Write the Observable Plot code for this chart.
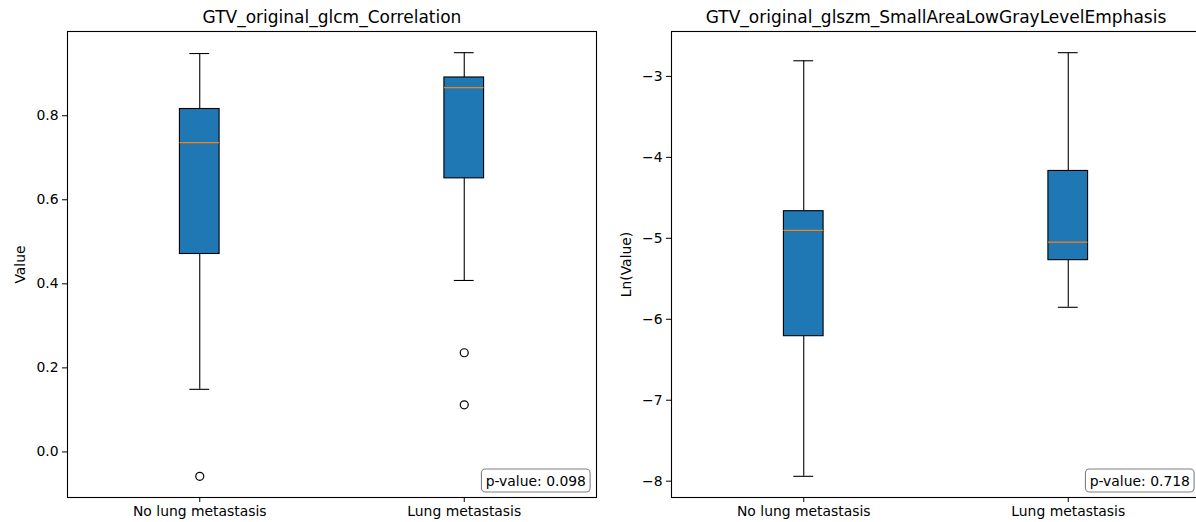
<!DOCTYPE html>
<html>
<head>
<meta charset="utf-8">
<script src="https://cdn.jsdelivr.net/npm/d3@7"></script>
<script src="https://cdn.jsdelivr.net/npm/@observablehq/plot@0.6"></script>
<style>
  html, body { margin: 0; padding: 0; background: #fff; }
  #wrap { width: 1196px; height: 522px; overflow: hidden; display: flex; flex-direction: row; align-items: flex-start; }
  #wrap svg { flex: none; display: block; }
</style>
</head>
<body>
<div id="wrap"></div>
<script>
// ---- Data ----
const groups = ["No lung metastasis", "Lung metastasis"];
const positions = [1, 2];

// Panel 1: GTV_original_glcm_Correlation
const corrTitle = "GTV_original_glcm_Correlation";
const corrYLabel = "Value";
const corrWhiskerLow  = [0.149, 0.408];
const corrQ1          = [0.471, 0.651];
const corrMedian      = [0.736, 0.867];
const corrQ3          = [0.816, 0.891];
const corrWhiskerHigh = [0.948, 0.950];
const corrOutlierGroup = [0, 1, 1];
const corrOutlierValue = [-0.058, 0.236, 0.112];
const corrTicks = [0.0, 0.2, 0.4, 0.6, 0.8];
const corrPValue = "p-value: 0.098";

// Panel 2: GTV_original_glszm_SmallAreaLowGrayLevelEmphasis
const salTitle = "GTV_original_glszm_SmallAreaLowGrayLevelEmphasis";
const salYLabel = "Ln(Value)";
const salWhiskerLow  = [-7.94, -5.852];
const salQ1          = [-6.209, -5.27];
const salMedian      = [-4.903, -5.046];
const salQ3          = [-4.665, -4.168];
const salWhiskerHigh = [-2.807, -2.707];
const salOutlierGroup = [];
const salOutlierValue = [];
const salTicks = [-8, -7, -6, -5, -4, -3];
const salPValue = "p-value: 0.718";

const FONT = "DejaVu Sans, sans-serif";
const BOX_HALF = 0.075, CAP_HALF = 0.0375;

function fmt(d, decimals) {
  const s = Math.abs(d).toFixed(decimals);
  return d < 0 ? "\u2212" + s : s;
}

function panel(opts) {
  const stats = groups.map((g, i) => ({
    group: g, pos: positions[i],
    lo: opts.lo[i], q1: opts.q1[i], med: opts.med[i], q3: opts.q3[i], hi: opts.hi[i]
  }));
  const outliers = opts.outGroup.map((gi, k) => ({pos: positions[gi], v: opts.outVal[k]}));
  const all = [...opts.lo, ...opts.hi, ...opts.outVal];
  const mn = d3.min(all), mx = d3.max(all), pad = (mx - mn) * 0.05;

  const svg = Plot.plot({
    width: opts.width,
    height: 522,
    marginLeft: opts.marginLeft,
    marginRight: opts.marginRight,
    marginTop: 31,
    marginBottom: 25,
    style: {fontFamily: FONT, fontSize: "13.9px", color: "#000", background: "#fff"},
    x: {domain: [0.5, 2.5]},
    y: {domain: [mn - pad, mx + pad]},
    marks: [
      Plot.frame({stroke: "#000", strokeWidth: 1.1}),
      // whiskers
      Plot.ruleX(stats, {x: "pos", y1: "q3", y2: "hi", stroke: "#000", strokeWidth: 1.1}),
      Plot.ruleX(stats, {x: "pos", y1: "lo", y2: "q1", stroke: "#000", strokeWidth: 1.1}),
      // caps
      Plot.ruleY(stats, {y: "hi", x1: d => d.pos - CAP_HALF, x2: d => d.pos + CAP_HALF, stroke: "#000", strokeWidth: 1.1}),
      Plot.ruleY(stats, {y: "lo", x1: d => d.pos - CAP_HALF, x2: d => d.pos + CAP_HALF, stroke: "#000", strokeWidth: 1.1}),
      // boxes
      Plot.rect(stats, {x1: d => d.pos - BOX_HALF, x2: d => d.pos + BOX_HALF, y1: "q1", y2: "q3", fill: "#1f77b4", stroke: "#000", strokeWidth: 1.1}),
      // medians
      Plot.ruleY(stats, {y: "med", x1: d => d.pos - BOX_HALF, x2: d => d.pos + BOX_HALF, stroke: "#ff7f0e", strokeWidth: 1.3}),
      // outliers
      Plot.dot(outliers, {x: "pos", y: "v", r: 4, stroke: "#000", fill: "none", strokeWidth: 1.2}),
      // axes
      Plot.axisX({ticks: positions, tickFormat: d => groups[positions.indexOf(d)], tickSize: 5, tickPadding: 4, label: null, fontSize: "13.9px"}),
      Plot.axisY({ticks: opts.ticks, tickFormat: d => fmt(d, opts.decimals), tickSize: 5, tickPadding: 4, fontSize: "13.9px",
        label: opts.ylabel, labelAnchor: "center", labelArrow: "none", labelOffset: opts.labelOffset}),
      // title
      Plot.text([opts.title], {frameAnchor: "top", dy: -14, text: d => d, fontSize: 17, lineAnchor: "middle", fill: "#000"}),
      // p-value annotation
      Plot.text([opts.pvalue], {frameAnchor: "bottom-right", dx: -10.6, dy: -12, text: d => d, textAnchor: "end", lineAnchor: "bottom", fontSize: 13.9, fill: "#000", className: "pval"})
    ]
  });
  return svg;
}

const wrap = document.getElementById("wrap");
const p1 = panel({width: 598, marginLeft: 67, marginRight: 2, lo: corrWhiskerLow, q1: corrQ1, med: corrMedian, q3: corrQ3, hi: corrWhiskerHigh,
  outGroup: corrOutlierGroup, outVal: corrOutlierValue, ticks: corrTicks, decimals: 1, ylabel: corrYLabel, labelOffset: 52,
  title: corrTitle, pvalue: corrPValue});
const p2 = panel({width: 602, marginLeft: 73, marginRight: 0, lo: salWhiskerLow, q1: salQ1, med: salMedian, q3: salQ3, hi: salWhiskerHigh,
  outGroup: salOutlierGroup, outVal: salOutlierValue, ticks: salTicks, decimals: 0, ylabel: salYLabel, labelOffset: 50,
  title: salTitle, pvalue: salPValue});
wrap.appendChild(p1);
wrap.appendChild(p2);

// rounded box behind the p-value labels (sized from the rendered text)
for (const svg of [p1, p2]) {
  svg.querySelectorAll("g.pval text, .pval text").forEach(t => {
    const b = t.getBBox();
    const padX = 4.2, padY = 3.5;
    const r = document.createElementNS("http://www.w3.org/2000/svg", "rect");
    r.setAttribute("x", b.x - padX);
    r.setAttribute("y", b.y - padY);
    r.setAttribute("width", b.width + 2 * padX);
    r.setAttribute("height", b.height + 2 * padY);
    r.setAttribute("rx", 4);
    r.setAttribute("fill", "#fff");
    r.setAttribute("fill-opacity", 0.5);
    r.setAttribute("stroke", "#808080");
    r.setAttribute("stroke-width", 1.1);
    const tr = t.getAttribute("transform");
    if (tr) r.setAttribute("transform", tr);
    t.parentNode.insertBefore(r, t);
  });
}
</script>
</body>
</html>
